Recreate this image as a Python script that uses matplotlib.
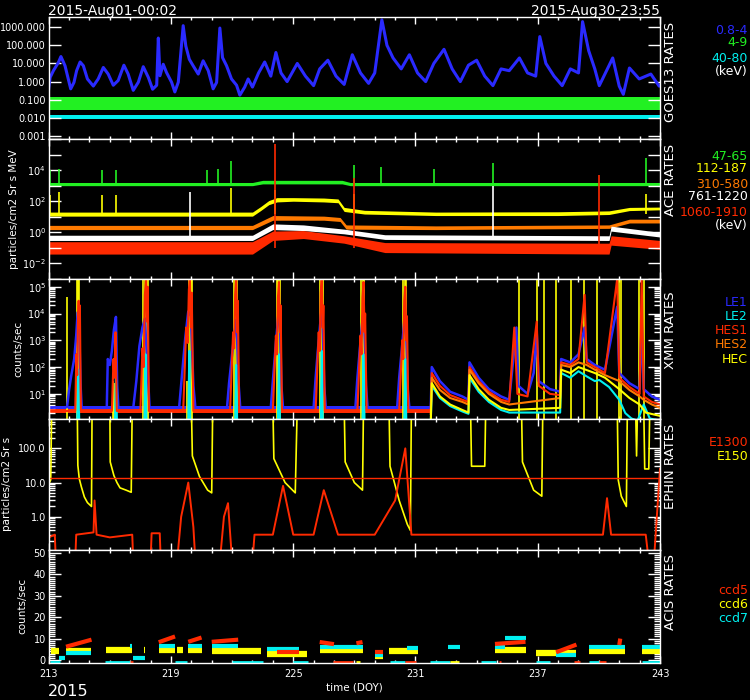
import matplotlib
matplotlib.use("Agg")
import matplotlib.pyplot as plt
from matplotlib.ticker import FixedLocator, FixedFormatter, NullFormatter

BLUE = '#2a2aff'
GREEN = '#22f022'
CYAN = '#00f0f0'
YELLOW = '#ffff00'
ORANGE = '#ff7a00'
RED = '#ff2a00'
WHITE = '#ffffff'

# ---------------- GOES13 (doy, value)
goes_08_4 = [(213.0, 0.4), (213.07, 1.7), (213.23, 4), (213.47, 11), (213.6, 24), (213.8, 7.5),
             (213.96, 1.4), (214.08, 0.4), (214.24, 0.9), (214.37, 4), (214.54, 12), (214.7, 7.5),
             (214.9, 1.4), (215.19, 0.57), (215.43, 1.4), (215.68, 6), (215.92, 2.6), (216.17, 0.63),
             (216.41, 1.15), (216.69, 8), (216.9, 2.6), (217.15, 0.33), (217.4, 0.93), (217.64, 6.6),
             (217.89, 1.7), (218.1, 0.38), (218.3, 0.63), (218.38, 250), (218.46, 2.1), (218.62, 9),
             (218.78, 3.2), (219.03, 0.93), (219.19, 0.27), (219.36, 0.93), (219.6, 1200), (219.73, 90),
             (219.9, 17), (220.09, 7.4), (220.34, 2.6), (220.58, 14), (220.83, 4), (221.07, 0.4),
             (221.24, 0.9), (221.4, 890), (221.53, 21), (221.73, 7.4), (221.97, 1.4), (222.22, 0.63),
             (222.38, 0.18), (222.62, 0.5), (222.79, 1.4), (223.0, 0.5), (223.3, 3), (223.6, 12),
             (223.9, 2), (224.15, 40), (224.4, 3), (224.7, 1), (225.2, 10), (225.6, 2), (226.0, 0.6),
             (226.3, 5), (226.7, 15), (227.1, 2), (227.5, 0.7), (227.9, 30), (228.3, 3), (228.7, 0.8),
             (229.0, 3), (229.35, 2500), (229.6, 100), (229.9, 20), (230.3, 5), (230.7, 30), (231.1, 3),
             (231.5, 1), (231.9, 10), (232.4, 60), (232.8, 5), (233.2, 1), (233.6, 8), (234.0, 15),
             (234.4, 2), (234.8, 0.6), (235.2, 5), (235.6, 4), (236.1, 20), (236.5, 3), (236.9, 2),
             (237.1, 300), (237.4, 10), (237.8, 2), (238.2, 0.6), (238.6, 5), (239.0, 3), (239.2, 2000),
             (239.5, 50), (239.8, 5), (240.02, 0.6), (240.68, 20), (241.0, 0.56), (241.2, 0.2),
             (241.5, 5.6), (241.98, 1.4), (242.55, 2.6), (242.96, 0.56), (243.0, 0.6)]
goes_4_9 = [(213.0, 0.028, 0.14), (243.0, 0.028, 0.14)]
goes_40_80 = [(213.0, 0.009, 0.015), (243.0, 0.009, 0.015)]

# ---------------- ACE bands (doy, low, high)
ace_47_65 = [(213.0, 1000, 1600), (223.0, 1000, 1600), (223.5, 1300, 2200), (227.4, 1300, 2200),
             (227.8, 1000, 1600), (243.0, 1000, 1600)]
ace_112_187 = [(213.0, 11, 20), (223.0, 11, 20), (223.4, 25, 45), (223.8, 60, 110), (224.2, 90, 170),
               (225.0, 100, 170), (226.5, 90, 160), (227.2, 80, 140), (227.5, 22, 40), (228.5, 15, 26),
               (232.0, 12, 20), (238.0, 12, 21), (240.5, 14, 24), (241.5, 25, 40), (243.0, 28, 42)]
ace_310_580 = [(213.0, 1.5, 2.8), (223.0, 1.5, 2.8), (224.0, 6, 12), (226.5, 6, 11), (227.3, 5, 9),
               (227.6, 1.6, 3), (232.0, 1.5, 2.6), (240.5, 1.8, 3), (241.5, 4, 7), (243.0, 4, 7)]
ace_761_1220 = [(213.0, 0.3, 0.65), (223.0, 0.3, 0.65), (224.0, 1.5, 3.5), (225.5, 1.3, 3),
                (227.5, 0.8, 1.6), (229.5, 0.35, 0.7), (240.5, 0.3, 0.6), (240.6, 1.2, 2.5),
                (243.0, 0.5, 1.0)]
ace_1060_1910 = [(213.0, 0.04, 0.25), (223.0, 0.04, 0.25), (224.0, 0.3, 1.2), (225.5, 0.4, 1.3),
                 (227.5, 0.2, 0.6), (229.5, 0.05, 0.22), (240.5, 0.04, 0.2), (240.6, 0.15, 0.6),
                 (243.0, 0.08, 0.3)]
ace_green_spikes = [(213.06, 10000), (213.5, 12500), (215.6, 10000), (216.3, 10000), (220.75, 10000),
                    (221.3, 12000), (221.97, 39000), (228.0, 20000), (229.3, 15000), (231.9, 12000),
                    (234.8, 30000), (242.3, 60000)]
ace_yellow_spikes = [(213.06, 250), (213.5, 400), (215.6, 250), (216.3, 260), (221.97, 700),
                     (224.1, 500), (228.0, 300), (242.3, 300)]
ace_red_spikes = [(224.1, 500000), (228.0, 3000), (240.0, 5000)]
ace_white_spikes = [(219.93, 400), (234.8, 900)]

# ---------------- XMM (doy, counts/sec); 0.8 = below the plot
xmm_le1 = [(213.0, 3), (213.9, 3.2), (214.0, 14), (214.1, 45), (214.25, 200), (214.35, 1500),
           (214.42, 11000), (214.5, 2500), (214.56, 25), (214.62, 3), (215.85, 3), (215.9, 200),
           (216.0, 120), (216.1, 400), (216.2, 2500), (216.3, 7500), (216.36, 20), (216.42, 3),
           (217.15, 3), (217.3, 30), (217.45, 600), (217.6, 3000), (217.72, 6500), (217.85, 100),
           (217.95, 3), (219.4, 3), (219.55, 60), (219.7, 1200), (219.85, 12000), (219.98, 8000),
           (220.1, 20), (220.2, 3), (221.75, 3), (221.85, 25), (222.0, 300), (222.12, 2000),
           (222.22, 6000), (222.3, 40), (222.4, 3), (223.9, 3), (224.0, 30), (224.15, 800),
           (224.27, 9000), (224.35, 5000), (224.42, 20), (224.5, 3), (226.0, 3), (226.1, 40),
           (226.25, 1000), (226.37, 10000), (226.45, 3000), (226.52, 20), (226.6, 3), (228.05, 3),
           (228.15, 40), (228.3, 900), (228.42, 9000), (228.5, 2000), (228.57, 20), (228.65, 3),
           (230.1, 3), (230.2, 40), (230.35, 700), (230.47, 8000), (230.55, 1500), (230.62, 15),
           (230.7, 3), (231.75, 3), (231.8, 100), (232.2, 30), (232.7, 12), (233.3, 8), (233.6, 6),
           (233.65, 150), (234.1, 40), (234.6, 15), (235.2, 8), (235.6, 6), (235.8, 200),
           (235.95, 3000), (236.05, 20), (236.5, 10), (236.8, 60), (236.95, 2000), (237.05, 30),
           (237.6, 15), (238.1, 12), (238.15, 200), (238.6, 150), (239.0, 300), (239.3, 3000),
           (239.4, 200), (239.8, 120), (240.3, 80), (240.9, 18000), (241.0, 60), (241.5, 25),
           (242.0, 15), (242.1, 5000), (242.2, 15), (242.6, 8), (243.0, 6)]
xmm_hes1 = [(213.0, 2.3), (214.3, 2.3), (214.36, 300), (214.4, 50), (214.44, 8000), (214.47, 30000),
            (214.5, 3000), (214.53, 20000), (214.58, 2.3), (216.1, 2.3), (216.18, 200), (216.22, 40),
            (216.28, 2000), (216.34, 2.3), (217.5, 2.3), (217.6, 500), (217.66, 100), (217.72, 50000),
            (217.78, 200000), (217.82, 5000), (217.86, 100000), (217.92, 2.3), (219.6, 2.3),
            (219.75, 3000), (219.82, 800), (219.88, 80000), (219.93, 200000), (219.98, 3000),
            (220.02, 60000), (220.1, 2.3), (221.9, 2.3), (222.05, 2000), (222.1, 500), (222.15, 50000),
            (222.2, 200000), (222.25, 2000), (222.28, 30000), (222.35, 2.3), (224.0, 2.3),
            (224.15, 1500), (224.2, 300), (224.25, 40000), (224.3, 150000), (224.35, 2000),
            (224.38, 20000), (224.45, 2.3), (226.1, 2.3), (226.25, 2000), (226.3, 400), (226.35, 60000),
            (226.4, 200000), (226.45, 3000), (226.48, 20000), (226.55, 2.3), (228.15, 2.3),
            (228.3, 1500), (228.35, 300), (228.4, 40000), (228.45, 150000), (228.5, 2000),
            (228.53, 10000), (228.6, 2.3), (230.2, 2.3), (230.35, 1000), (230.4, 200), (230.45, 30000),
            (230.5, 100000), (230.55, 1000), (230.58, 8000), (230.65, 2.3), (231.75, 2.3), (231.8, 60),
            (232.2, 20), (232.7, 9), (233.3, 6), (233.6, 5), (233.65, 100), (234.1, 30), (234.6, 12),
            (235.2, 6), (235.6, 5), (235.85, 3000), (236.0, 10), (236.5, 8), (236.95, 5000),
            (237.05, 20), (237.6, 10), (238.1, 9), (238.15, 150), (238.6, 120), (239.0, 200),
            (239.3, 50000), (239.4, 150), (239.8, 100), (240.3, 60), (240.9, 200000), (241.0, 40),
            (241.5, 18), (242.0, 10), (242.1, 200000), (242.2, 8), (242.6, 5), (243.0, 4)]
xmm_hes2 = [(231.75, 1.8), (231.8, 40), (232.2, 14), (232.7, 7), (233.3, 5), (233.6, 4),
            (233.65, 80), (234.1, 25), (234.6, 10), (235.2, 5), (235.6, 4), (238.1, 7), (238.15, 120),
            (238.6, 100), (239.0, 150), (239.4, 120), (239.8, 80), (240.3, 50), (241.0, 30),
            (241.5, 14), (242.0, 8), (242.2, 6), (242.6, 4), (243.0, 3)]
xmm_le2 = [(213.0, 0.8), (214.4, 0.8), (214.45, 80), (214.5, 0.8), (216.25, 0.8), (216.3, 40),
           (216.35, 0.8), (217.7, 0.8), (217.75, 300), (217.8, 0.8), (219.85, 0.8), (219.9, 400),
           (219.95, 0.8), (222.15, 0.8), (222.2, 120), (222.25, 0.8), (224.25, 0.8), (224.3, 300),
           (224.35, 0.8), (226.35, 0.8), (226.4, 400), (226.45, 0.8), (228.4, 0.8), (228.45, 300),
           (228.5, 0.8), (230.45, 0.8), (230.5, 200), (230.55, 0.8), (231.75, 0.8), (231.8, 20),
           (232.2, 7), (232.7, 3.5), (233.3, 2.2), (233.6, 1.8), (233.65, 40), (234.1, 12),
           (234.6, 5), (235.2, 2.5), (235.6, 2), (238.1, 2), (238.15, 60), (238.6, 40), (239.0, 70),
           (239.4, 45), (239.8, 30), (240.02, 33), (240.5, 18), (241.0, 6), (241.3, 1.9),
           (241.6, 1.2), (241.9, 1.0), (242.2, 4), (242.5, 1.2), (243.0, 1.0)]
xmm_hec_spikes = [(213.88, 40000), (214.38, 3e5), (214.44, 3e5), (214.5, 3e5), (216.15, 30),
                  (216.22, 25), (216.28, 20), (217.65, 3e5), (217.72, 3e5), (217.8, 3e5),
                  (217.86, 3e5), (219.78, 30), (219.9, 3e5), (219.97, 3e5), (220.05, 3e5),
                  (222.1, 3e5), (222.18, 3e5), (222.25, 3e5), (224.2, 3e5), (224.27, 3e5),
                  (224.34, 3e5), (226.3, 3e5), (226.37, 3e5), (226.44, 3e5), (228.35, 3e5),
                  (228.42, 3e5), (228.49, 3e5), (230.4, 3e5), (230.47, 3e5), (230.54, 3e5),
                  (236.1, 3e5), (236.98, 3e5), (237.33, 3e5), (237.92, 3e5), (238.65, 3e5),
                  (239.29, 3e5), (239.93, 3e5), (241.0, 3e5), (241.1, 3e5), (241.98, 3e5),
                  (242.2, 3e5)]
xmm_hec = [(231.75, 0.8), (231.8, 25), (232.2, 8), (232.7, 4), (233.3, 2.5), (233.6, 2),
           (233.65, 50), (234.1, 15), (234.6, 6), (235.2, 3), (235.6, 2.5), (238.1, 3), (238.15, 80),
           (238.6, 60), (239.0, 100), (239.8, 60), (240.3, 40), (241.0, 15), (241.5, 7), (242.0, 4),
           (242.3, 2), (243.0, 1.5)]

# ---------------- EPHIN (doy, value), 2000 = off scale
ephin_e150 = [(213.0, 9), (213.1, 12), (213.15, 2000), (214.4, 2000), (214.43, 32), (214.5, 13),
              (214.6, 7.6), (214.75, 3.8), (214.9, 2.6), (215.1, 2), (215.13, 2000), (216.0, 2000),
              (216.02, 40), (216.2, 16), (216.35, 10), (216.5, 7), (216.8, 6), (217.05, 5.2),
              (217.1, 2000), (220.0, 2000), (220.05, 60), (220.4, 15), (220.8, 6), (221.0, 5),
              (221.05, 2000), (224.0, 2000), (224.05, 50), (224.6, 10), (225.1, 5), (225.2, 2000),
              (227.5, 2000), (227.55, 40), (228.0, 10), (228.4, 6), (228.45, 2000), (229.7, 2000),
              (229.75, 30), (230.2, 3), (230.6, 0.6), (230.75, 0.4), (230.8, 2000), (233.7, 2000),
              (233.75, 30), (234.4, 30), (234.45, 2000), (236.2, 2000), (236.25, 40), (236.8, 6),
              (237.2, 4), (237.25, 2000), (240.9, 2000), (240.95, 12), (241.1, 4), (241.35, 2),
              (241.4, 2000), (241.8, 2000), (241.85, 60), (241.9, 2000), (242.2, 2000), (242.25, 25),
              (242.45, 25), (242.5, 2000), (243.0, 2000)]
ephin_e1300 = [(213.0, 0.25), (213.3, 0.3), (213.35, 0.05), (214.3, 0.05), (214.35, 0.3), (215.2, 0.35),
               (215.25, 3), (215.35, 0.3), (216.0, 0.25), (217.1, 0.3), (217.15, 0.05), (218.0, 0.05),
               (218.05, 0.33), (218.45, 0.33), (218.5, 0.05), (219.3, 0.05), (219.5, 1), (219.85, 10),
               (220.1, 0.5), (220.2, 0.05), (221.4, 0.05), (221.6, 1), (221.8, 2.5), (222.0, 0.05),
               (223.0, 0.05), (223.1, 0.3), (224.0, 0.3), (224.5, 8), (225.0, 0.3), (226.0, 0.3),
               (226.5, 6), (227.2, 0.3), (229.0, 0.3), (230.0, 3), (230.5, 100), (230.8, 0.3),
               (232.0, 0.3), (233.0, 0.3), (234.0, 0.3), (236.0, 0.3), (238.0, 0.3), (240.2, 0.3),
               (240.4, 3.5), (240.6, 0.3), (242.3, 0.3), (242.45, 0.05), (242.7, 0.05), (243.0, 25)]
ephin_level = 14.0

# ---------------- ACIS segments (start, end, value at start, value at end)
acis_ccd5 = [(213.85, 215.1, 6.2, 9.5), (218.4, 219.2, 8.3, 11), (219.85, 220.5, 8.5, 10.5),
             (221.0, 222.3, 8.5, 9.5), (224.2, 225.3, 3.9, 3.9), (226.3, 227.0, 8.4, 7.4),
             (228.1, 228.4, 7.8, 8.4), (229.0, 229.4, 3.7, 3.7), (234.9, 236.4, 7.5, 8.5),
             (237.9, 238.9, 3.6, 7.2), (241.0, 241.05, 7, 10)]
acis_ccd6 = [(213.1, 213.5, 4.2, 4.2), (213.85, 215.1, 4.2, 4.2), (215.8, 217.1, 4.5, 4.5),
             (217.7, 217.75, 4.5, 4.5), (218.4, 219.2, 4.5, 4.5), (219.3, 219.6, 4.5, 4.5),
             (219.85, 220.5, 4.5, 4.5), (221.0, 223.4, 4.3, 4.3), (223.7, 225.7, 3.0, 3.0),
             (226.3, 228.4, 4.7, 4.7), (229.0, 229.4, 2.0, 2.0), (229.7, 231.1, 4.0, 4.0),
             (234.9, 236.4, 4.7, 4.7), (236.9, 238.9, 3.5, 3.5), (239.5, 241.3, 4.2, 4.2),
             (242.1, 243.0, 4.2, 4.2)]
acis_ccd7 = [(213.85, 215.1, 3.4, 3.4), (217.0, 217.1, 6.5, 6.5), (218.4, 219.2, 6.5, 6.5),
             (219.85, 220.5, 6.5, 6.5), (221.0, 222.3, 6.5, 6.5), (223.7, 225.3, 5.0, 5.0),
             (226.3, 228.4, 6.2, 6.2), (229.0, 229.4, 2.5, 2.5), (230.6, 231.1, 5.7, 5.7),
             (232.6, 233.2, 6.2, 6.2), (234.9, 235.4, 6.2, 6.2), (235.4, 236.4, 10.1, 10.1),
             (237.9, 238.9, 2.5, 2.5), (239.5, 241.3, 6.2, 6.2), (242.1, 243.0, 6.2, 6.2),
             (213.52, 213.8, 0.8, 0.8), (217.15, 217.72, 0.8, 0.8)]
# readings lying on the zero line: (start, end, ccd colour)
acis_floor = [(213.07, 213.56, CYAN), (215.76, 216.99, CYAN), (216.99, 217.15, RED),
              (219.2, 219.8, CYAN), (222.0, 223.52, CYAN), (225.0, 225.73, CYAN),
              (226.96, 227.94, RED), (228.1, 228.26, YELLOW), (229.73, 230.47, CYAN),
              (230.47, 231.04, RED), (231.7, 232.67, CYAN), (232.67, 233.16, YELLOW),
              (234.23, 234.96, CYAN), (235.12, 235.2, RED), (236.92, 237.58, CYAN),
              (238.8, 239.05, RED), (239.54, 240.03, CYAN), (240.02, 240.35, RED),
              (242.14, 243.0, CYAN)]

x_major = [213, 219, 225, 231, 237, 243]
x_minor = list(range(213, 244))


def px(x, y):
    return x / 750, 1 - y / 700


def style(ax, show_x=False):
    ax.set_facecolor('black')
    for s in ax.spines.values():
        s.set_color('white')
        s.set_linewidth(1)
    ax.set_xlim(213, 243)
    ax.xaxis.set_major_locator(FixedLocator(x_major))
    ax.xaxis.set_minor_locator(FixedLocator(x_minor))
    ax.tick_params(which='both', direction='in', colors='white', top=True, right=True,
                   labelsize=7, width=1)
    ax.tick_params(axis='x', which='major', length=5, pad=4)
    ax.tick_params(axis='x', which='minor', length=2.2)
    ax.tick_params(axis='y', which='major', length=8.6, pad=2)
    ax.tick_params(axis='y', which='minor', length=4.3)
    if not show_x:
        ax.xaxis.set_major_formatter(NullFormatter())


def log_ticks(ax, major, labels, minor=None):
    ax.set_yscale('log')
    ax.yaxis.set_major_locator(FixedLocator(major))
    ax.yaxis.set_major_formatter(FixedFormatter(labels))
    ax.yaxis.set_minor_locator(FixedLocator(minor if minor else []))
    ax.yaxis.set_minor_formatter(NullFormatter())


def minor_decades(lo, hi):
    return [m * 10.0 ** e for e in range(lo, hi) for m in range(2, 10)]


def band(ax, rows, color):
    t, lo, hi = zip(*rows)
    ax.fill_between(t, lo, hi, color=color, lw=0)


def line(ax, rows, color, lw=1.2):
    t, v = zip(*rows)
    ax.plot(t, v, color=color, lw=lw)


fig = plt.figure(figsize=(7.5, 7), dpi=100, facecolor='black')
L, W = 48.7 / 750, (660 - 48.7) / 750
ax1 = fig.add_axes([L, 1 - 139 / 700, W, 121.7 / 700])
ax2 = fig.add_axes([L, 1 - 279 / 700, W, 140 / 700])
ax3 = fig.add_axes([L, 1 - 419 / 700, W, 140 / 700])
ax4 = fig.add_axes([L, 1 - 550 / 700, W, 131 / 700])
ax5 = fig.add_axes([L, 1 - 663 / 700, W, 113 / 700])

# GOES13
band(ax1, goes_4_9, GREEN)
line(ax1, goes_08_4, BLUE, 2.2)
band(ax1, goes_40_80, CYAN)
style(ax1)
log_ticks(ax1, [1e-3, 1e-2, 1e-1, 1, 10, 100, 1000],
          ['0.001', '0.010', '0.100', '1.000', '10.000', '100.000', '1000.000'])
ax1.set_ylim(10 ** -3.16, 10 ** 3.54)

# ACE
band(ax2, ace_47_65, GREEN)
band(ax2, ace_112_187, YELLOW)
band(ax2, ace_310_580, ORANGE)
band(ax2, ace_761_1220, WHITE)
band(ax2, ace_1060_1910, RED)
for rows, base, color in [(ace_green_spikes, 1300, GREEN), (ace_yellow_spikes, 15, YELLOW),
                          (ace_red_spikes, 0.1, RED), (ace_white_spikes, 0.5, WHITE)]:
    t, v = zip(*rows)
    ax2.vlines(t, base, v, color=color, lw=1.2)
style(ax2)
log_ticks(ax2, [10.0 ** e for e in range(-3, 7)],
          ['$10^{%d}$' % e if e in (-2, 0, 2, 4) else '' for e in range(-3, 7)])
ax2.set_ylim(1e-3, 1e6)

# XMM
ax3.fill_between([213, 231.75], 2.4, 3.6, color=BLUE, lw=0)
ax3.fill_between([213, 231.75], 1.9, 2.7, color=RED, lw=0)
t, v = zip(*xmm_hec_spikes)
ax3.vlines(t, 0.8, v, color=YELLOW, lw=1.2)
line(ax3, xmm_le1, BLUE, 1.8)
line(ax3, xmm_le2, CYAN, 1.5)
line(ax3, xmm_hes1, RED, 1.5)
line(ax3, xmm_hes2, ORANGE, 1.5)
line(ax3, xmm_hec, YELLOW, 1.5)
style(ax3)
log_ticks(ax3, [10, 100, 1000, 1e4, 1e5],
          ['$10^{1}$', '$10^{2}$', '$10^{3}$', '$10^{4}$', '$10^{5}$'], minor_decades(0, 6))
ax3.set_ylim(1.15, 1.95e5)

# EPHIN
line(ax4, ephin_e150, YELLOW, 1.2)
line(ax4, ephin_e1300, RED, 1.4)
ax4.axhline(ephin_level, color=RED, lw=1)
style(ax4)
log_ticks(ax4, [0.1, 1, 10, 100], ['0.1', '1.0', '10.0', '100.0'], minor_decades(-1, 3))
ax4.set_ylim(0.107, 720)

# ACIS
for segs, color, lw in [(acis_ccd6, YELLOW, 4.5), (acis_ccd7, CYAN, 3), (acis_ccd5, RED, 3)]:
    for t0, t1, v0, v1 in segs:
        ax5.plot([t0, t1], [v0, v1], color=color, lw=lw, solid_capstyle='butt')
for t0, t1, color in acis_floor:
    ax5.plot([t0, t1], [-0.9, -0.9], color=color, lw=2, solid_capstyle='butt')
style(ax5, show_x=True)
ax5.set_ylim(-1.4, 51.4)
ax5.yaxis.set_major_locator(FixedLocator([0, 10, 20, 30, 40, 50]))
ax5.yaxis.set_minor_locator(FixedLocator(list(range(0, 51))))
ax5.set_xlabel('time (DOY)', color='white', fontsize=7.5, labelpad=3)

# y labels
for x, y, s in [(14, 209, 'particles/cm2 Sr s MeV'), (18, 349, 'counts/sec'),
                (7, 484, 'particles/cm2 Sr s'), (22, 606, 'counts/sec')]:
    fig.text(*px(x, y), s, color='white', fontsize=7.5, rotation=90, ha='center', va='center')

# titles and side texts
fig.text(*px(48, 11), '2015-Aug01-00:02', color='white', fontsize=10, va='center', ha='left')
fig.text(*px(660, 11), '2015-Aug30-23:55', color='white', fontsize=10, va='center', ha='right')
fig.text(*px(48, 692), '2015', color='white', fontsize=11.5, va='center', ha='left')

side = [(72, 'GOES13 RATES'), (180, 'ACE RATES'), (330, 'XMM RATES'), (466, 'EPHIN RATES'),
        (592, 'ACIS RATES')]
for y, s in side:
    fig.text(*px(671, y), s, color='white', fontsize=9.5, rotation=90, ha='center', va='center')

legend = [(31, '0.8-4', BLUE), (43, '4-9', GREEN), (58, '40-80', CYAN), (72, '(keV)', WHITE),
          (157, '47-65', GREEN), (169, '112-187', YELLOW), (184, '310-580', ORANGE),
          (197, '761-1220', WHITE), (212, '1060-1910', RED), (226, '(keV)', WHITE),
          (303, 'LE1', BLUE), (317, 'LE2', CYAN), (331, 'HES1', RED), (344, 'HES2', ORANGE),
          (359, 'HEC', YELLOW), (443, 'E1300', RED), (457, 'E150', YELLOW),
          (591, 'ccd5', RED), (605, 'ccd6', YELLOW), (618, 'ccd7', CYAN)]
for y, s, c in legend:
    fig.text(*px(748, y), s, color=c, fontsize=9, ha='right', va='center')

fig.savefig('out.png', dpi=100, facecolor='black')
